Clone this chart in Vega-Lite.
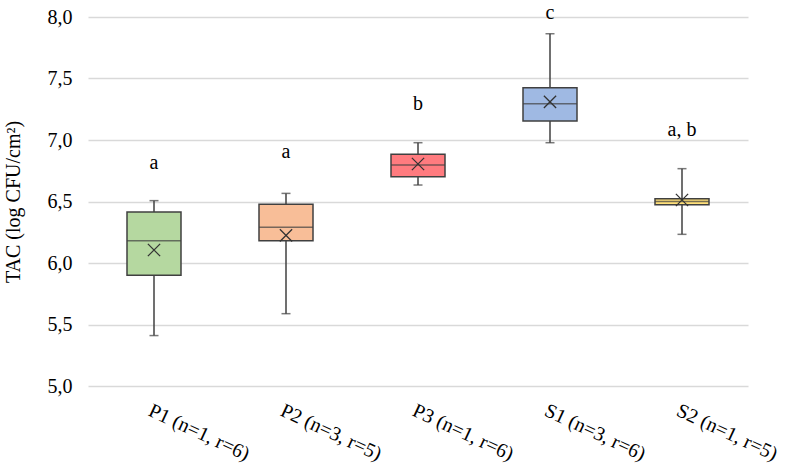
{
  "$schema": "https://vega.github.io/schema/vega-lite/v6.json",
  "width": 660,
  "height": 369,
  "autosize": {"type": "none"},
  "padding": {"left": 88, "top": 17, "right": 39, "bottom": 86},
  "background": "white",
  "config": {"font": "Liberation Serif", "view": {"stroke": null},
    "axis": {"labelFont": "Liberation Serif", "titleFont": "Liberation Serif"},
    "text": {"font": "Liberation Serif"}},
  "data": {
    "values": [
      {"group": "P1 (n=1, r=6)", "lo": 5.41, "q1": 5.9, "med": 6.18, "q3": 6.415, "hi": 6.507, "mean": 6.106, "letter": "a", "ly": 6.81},
      {"group": "P2 (n=3, r=5)", "lo": 5.588, "q1": 6.18, "med": 6.29, "q3": 6.477, "hi": 6.566, "mean": 6.225, "letter": "a", "ly": 6.9},
      {"group": "P3 (n=1, r=6)", "lo": 6.634, "q1": 6.702, "med": 6.797, "q3": 6.884, "hi": 6.978, "mean": 6.805, "letter": "b", "ly": 7.29},
      {"group": "S1 (n=3, r=6)", "lo": 6.978, "q1": 7.154, "med": 7.295, "q3": 7.425, "hi": 7.864, "mean": 7.31, "letter": "c", "ly": 8.03},
      {"group": "S2 (n=1, r=5)", "lo": 6.233, "q1": 6.474, "med": 6.5, "q3": 6.523, "hi": 6.767, "mean": 6.512, "letter": "a, b", "ly": 7.08}
    ]
  },
  "encoding": {
    "x": {
      "field": "group", "type": "nominal", "sort": null,
      "scale": {"paddingInner": 0, "paddingOuter": 0},
      "axis": {"title": null, "labelAngle": 25, "labelAlign": "left", "labelBaseline": "top", "labelPadding": 14, "labelFontSize": 20, "labelColor": "#000000", "ticks": false, "domain": false, "grid": false}
    }
  },
  "layer": [
    {
      "mark": {"type": "rule", "color": "#404040", "strokeWidth": 1.5},
      "encoding": {
        "y": {"field": "lo", "type": "quantitative",
          "scale": {"domain": [5, 8], "nice": false, "zero": false},
          "axis": {"title": "TAC (log CFU/cm²)", "titleFontSize": 20, "titleFontWeight": "normal", "titleColor": "#000000", "titlePadding": 24,
            "values": [5, 5.5, 6, 6.5, 7, 7.5, 8], "labelExpr": "replace(format(datum.value, '.1f'), '.', ',')",
            "labelFontSize": 20, "labelColor": "#000000", "labelPadding": 16, "ticks": false, "domain": false,
            "grid": true, "gridColor": "#d9d9d9", "gridWidth": 1.5}},
        "y2": {"field": "hi"}
      }
    },
    {
      "mark": {"type": "bar", "size": 54, "stroke": "#404040", "strokeWidth": 1.5},
      "encoding": {
        "y": {"field": "q1", "type": "quantitative"},
        "y2": {"field": "q3"},
        "color": {"field": "group", "type": "nominal", "legend": null,
          "scale": {"domain": ["P1 (n=1, r=6)", "P2 (n=3, r=5)", "P3 (n=1, r=6)", "S1 (n=3, r=6)", "S2 (n=1, r=5)"],
            "range": ["#b5d8a0", "#f8be98", "#ff7b7f", "#9fb9e3", "#ffe07a"]}}
      }
    },
    {
      "mark": {"type": "tick", "orient": "horizontal", "size": 54, "thickness": 1.5, "color": "#404040"},
      "encoding": {"y": {"field": "med", "type": "quantitative"}}
    },
    {
      "mark": {"type": "tick", "orient": "horizontal", "size": 9, "thickness": 1.5, "color": "#404040"},
      "encoding": {"y": {"field": "lo", "type": "quantitative"}}
    },
    {
      "mark": {"type": "tick", "orient": "horizontal", "size": 9, "thickness": 1.5, "color": "#404040"},
      "encoding": {"y": {"field": "hi", "type": "quantitative"}}
    },
    {
      "mark": {"type": "point", "shape": "M-1,-1L1,1M1,-1L-1,1", "filled": false, "size": 150, "stroke": "#333333", "strokeWidth": 1.3, "opacity": 1},
      "encoding": {"y": {"field": "mean", "type": "quantitative"}}
    },
    {
      "mark": {"type": "text", "fontSize": 20, "baseline": "middle", "color": "#000000", "font": "Liberation Serif"},
      "encoding": {
        "y": {"field": "ly", "type": "quantitative"},
        "text": {"field": "letter"}
      }
    }
  ]
}
